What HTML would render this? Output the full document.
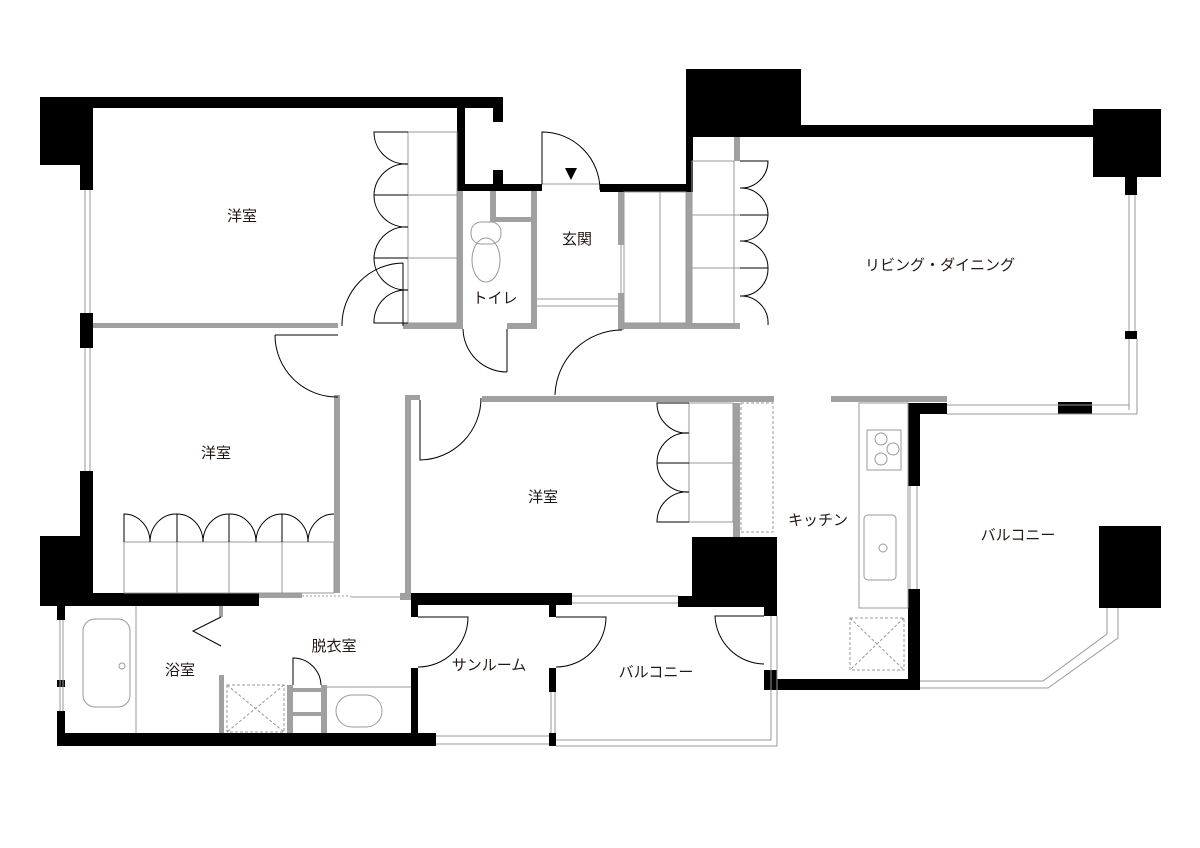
<!DOCTYPE html>
<html><head><meta charset="utf-8"><style>
html,body{margin:0;padding:0;background:#fff}
svg{display:block}
text{font-family:"Liberation Sans","Noto Sans CJK JP",sans-serif;font-size:15px;fill:#231815;text-anchor:middle}
</style></head><body>
<svg width="1200" height="848" viewBox="0 0 1200 848" xmlns="http://www.w3.org/2000/svg">
<g fill="#000">
<!-- top-left -->
<rect x="40" y="97" width="53" height="68"/>
<rect x="40" y="97" width="463" height="11"/>
<rect x="493" y="97" width="10" height="25"/>
<rect x="493" y="170" width="10" height="20"/>
<rect x="457" y="108" width="8" height="83"/>
<rect x="457" y="184" width="85" height="7"/>
<rect x="80" y="165" width="13" height="25"/>
<rect x="80" y="313" width="13" height="35"/>
<rect x="80" y="471" width="13" height="130"/>
<rect x="40" y="536" width="53" height="70"/>
<rect x="40" y="593" width="219" height="13"/>
<!-- top right -->
<rect x="600" y="184" width="92" height="8"/>
<rect x="686" y="69" width="115" height="68"/>
<rect x="686" y="69" width="7" height="123"/>
<rect x="800" y="125" width="300" height="12"/>
<rect x="1093" y="109" width="68" height="68"/>
<rect x="1125" y="177" width="12" height="18"/>
<rect x="1125" y="331" width="12" height="8"/>
<rect x="1058" y="402" width="34" height="12"/>
<rect x="908" y="403" width="39" height="11"/>
<rect x="908" y="403" width="12" height="83"/>
<rect x="908" y="589" width="12" height="101"/>
<rect x="764" y="679" width="156" height="11"/>
<rect x="764" y="670" width="13" height="20"/>
<rect x="692" y="537" width="85" height="59"/>
<rect x="678" y="596" width="99" height="11"/>
<rect x="764" y="596" width="13" height="20"/>
<rect x="1099" y="526" width="62" height="82"/>
<!-- bath / sunroom -->
<rect x="57" y="606" width="8" height="14"/>
<rect x="57" y="680" width="8" height="7"/>
<rect x="57" y="711" width="8" height="35"/>
<rect x="57" y="733" width="379" height="13"/>
<rect x="411" y="593" width="161" height="12"/>
<rect x="411" y="593" width="7" height="24"/>
<rect x="411" y="668" width="7" height="78"/>
<rect x="549" y="605" width="7" height="12"/>
<rect x="549" y="668" width="7" height="24"/>
<rect x="549" y="733" width="7" height="13"/>
<polygon points="570,547 574,547 578,547 566,547" />
</g>
<!-- entrance arrow -->
<polygon points="565,168 577,168 571,180" fill="#000"/>
<!-- grey walls -->
<g fill="#a0a0a0">
<rect x="93" y="323" width="245" height="5"/>
<rect x="403" y="323" width="60" height="6"/>
<rect x="457" y="191" width="6" height="138"/>
<rect x="531" y="191" width="6" height="138"/>
<rect x="490" y="191" width="6" height="31"/>
<rect x="490" y="217" width="41" height="5"/>
<rect x="507" y="323" width="30" height="6"/>
<rect x="618" y="192" width="6" height="53"/>
<rect x="618" y="293" width="6" height="37"/>
<rect x="618" y="323" width="122" height="6"/>
<rect x="686" y="192" width="6" height="133"/>
<rect x="734" y="137" width="6" height="24"/>
<rect x="334" y="395" width="6" height="198"/>
<rect x="405" y="395" width="6" height="205"/>
<rect x="405" y="395" width="15" height="5"/>
<rect x="482" y="396" width="292" height="6"/>
<rect x="831" y="396" width="116" height="6"/>
<rect x="733" y="403" width="7" height="134"/>
<rect x="259" y="593" width="43" height="5"/>
<rect x="400" y="593" width="11" height="7"/>
<rect x="219" y="606" width="4" height="11"/>
<rect x="219" y="675" width="5" height="58"/>
<rect x="287" y="685" width="6" height="48"/>
<rect x="321" y="685" width="6" height="48"/>
<rect x="293" y="688" width="28" height="4"/>
<rect x="293" y="712" width="28" height="4"/>
</g>
<g fill="none" stroke="#999" stroke-width="1">
<!-- closets bedroom1 -->
<rect x="408" y="132" width="49" height="191"/>
<line x1="408" y1="195" x2="457" y2="195"/><line x1="408" y1="258" x2="457" y2="258"/>
<!-- entrance closets -->
<rect x="624" y="192" width="62" height="131"/>
<line x1="660" y1="192" x2="660" y2="323"/>
<rect x="692" y="161" width="42" height="164"/>
<line x1="692" y1="215" x2="740" y2="215"/><line x1="692" y1="268" x2="740" y2="268"/>
<line x1="537" y1="299" x2="618" y2="299"/><line x1="537" y1="306" x2="618" y2="306"/>
<line x1="542" y1="184" x2="600" y2="184"/>
<line x1="621" y1="245" x2="621" y2="293"/>
<!-- bedroom2 closet -->
<rect x="124" y="542" width="210" height="51"/>
<line x1="177" y1="542" x2="177" y2="593"/><line x1="229" y1="542" x2="229" y2="593"/><line x1="282" y1="542" x2="282" y2="593"/>
<!-- bedroom3 closet -->
<rect x="689" y="403" width="44" height="119"/>
<line x1="689" y1="463" x2="733" y2="463"/>
<rect x="741" y="403" width="32" height="129" stroke-dasharray="3,2"/>
<!-- bath -->
<line x1="136" y1="606" x2="136" y2="733"/>
<rect x="83" y="619" width="47" height="88" rx="12"/>
<circle cx="122" cy="666" r="3"/>
<line x1="60" y1="620" x2="60" y2="711"/><line x1="63" y1="620" x2="63" y2="711"/>
<rect x="227" y="685" width="57" height="47" stroke-dasharray="3,2"/>
<line x1="227" y1="685" x2="284" y2="732" stroke-dasharray="3,2"/><line x1="284" y1="685" x2="227" y2="732" stroke-dasharray="3,2"/>
<line x1="327" y1="687" x2="411" y2="687"/>
<rect x="336" y="695" width="46" height="32" rx="16"/>
<line x1="302" y1="596" x2="351" y2="596" stroke-dasharray="2,2"/>
<line x1="351" y1="597" x2="400" y2="597"/>
<!-- windows -->
<line x1="85" y1="190" x2="85" y2="313"/><line x1="90" y1="190" x2="90" y2="313"/>
<line x1="85" y1="348" x2="85" y2="471"/><line x1="90" y1="348" x2="90" y2="471"/>
<line x1="1129" y1="195" x2="1129" y2="331"/><line x1="1135" y1="195" x2="1135" y2="331"/>
<line x1="1129" y1="339" x2="1129" y2="410"/><line x1="1137" y1="339" x2="1137" y2="414"/>
<line x1="947" y1="405" x2="1129" y2="405"/><line x1="947" y1="414" x2="1137" y2="414"/>
<line x1="572" y1="596" x2="678" y2="596"/><line x1="572" y1="603" x2="678" y2="603"/>
<line x1="436" y1="736" x2="549" y2="736"/><line x1="436" y1="744" x2="549" y2="744"/>
<line x1="551" y1="692" x2="551" y2="733"/><line x1="555" y1="692" x2="555" y2="733"/>
<line x1="910" y1="486" x2="910" y2="589"/><line x1="917" y1="486" x2="917" y2="589"/>
<!-- balconies outline -->
<polyline points="771,616 771,740 556,740"/><polyline points="777,616 777,746 556,746"/>
<polyline points="920,681 1043,681 1107,634 1107,608"/>
<polyline points="920,688 1048,688 1118,638 1118,608"/>
<!-- kitchen -->
<rect x="859" y="403" width="49" height="205"/>
<rect x="867" y="430" width="34" height="40"/>
<circle cx="881" cy="439" r="6"/><circle cx="893" cy="449" r="6"/><circle cx="881" cy="459" r="6"/>
<rect x="864" y="515" width="32" height="65" rx="4"/>
<circle cx="883" cy="548" r="4"/>
<rect x="850" y="618" width="54" height="52" stroke-dasharray="3,2"/>
<line x1="850" y1="618" x2="904" y2="670" stroke-dasharray="3,2"/><line x1="904" y1="618" x2="850" y2="670" stroke-dasharray="3,2"/>
<!-- toilet -->
<rect x="471" y="222" width="30" height="22" rx="10"/>
<ellipse cx="486" cy="260" rx="14" ry="22"/>
</g>
<!-- doors -->
<g fill="none" stroke="#000" stroke-width="1">
<path d="M542,184 V132 A58,58 0 0 1 600,190"/>
<path d="M403,263 V326 M403,263 A62,62 0 0 0 342,326"/>
<path d="M275,335 H338 M275,335 A62,62 0 0 0 338,397"/>
<path d="M507,329 V372 M463,329 A44,44 0 0 0 507,372"/>
<path d="M555,395 A67,67 0 0 1 622,330"/>
<path d="M420,400 V460 A62,62 0 0 0 481,398"/>
<path d="M418,617 H468 A50,50 0 0 1 418,667"/>
<path d="M556,617 H606 A50,50 0 0 1 556,667"/>
<path d="M764,616 H715 A50,50 0 0 0 764,664"/>
<path d="M293,685 V658 A28,28 0 0 1 321,685"/>
<path d="M221,617 L193,631 L221,646"/>
<!-- closet arcs bedroom1 -->
<path d="M408,132 H374 A32,32 0 0 0 408,164 A32,32 0 0 0 374,195 H408 M374,195 A32,32 0 0 0 408,227 A32,32 0 0 0 374,258 H408 M374,258 A32,32 0 0 0 408,290 A32,32 0 0 0 374,323 H408"/>
<!-- living closet arcs -->
<path d="M740,161 H768 A27,27 0 0 1 740,188 A27,27 0 0 1 768,215 H740 M768,215 A27,27 0 0 1 740,241 A27,27 0 0 1 768,268 H740 M768,268 A27,27 0 0 1 740,296 A27,27 0 0 1 768,325"/>
<!-- bedroom3 closet arcs -->
<path d="M689,403 H657 A30,30 0 0 0 689,433 A30,30 0 0 0 657,463 H689 M657,463 A30,30 0 0 0 689,492 A30,30 0 0 0 657,522 H689"/>
<!-- bedroom2 closet arcs -->
<path d="M124,542 V514 A26,28 0 0 1 150,542 A26,28 0 0 1 177,514 V542 M177,514 A26,28 0 0 1 203,542 A26,28 0 0 1 229,514 V542 M229,514 A26,28 0 0 1 256,542 A26,28 0 0 1 282,514 V542 M282,514 A26,28 0 0 1 308,542 A26,28 0 0 1 334,514"/>
</g>
<!-- labels -->
<text x="242" y="221">洋室</text>
<text x="216" y="458">洋室</text>
<text x="543" y="502">洋室</text>
<text x="577" y="244">玄関</text>
<text x="495" y="303">トイレ</text>
<text x="940" y="270">リビング・ダイニング</text>
<text x="818" y="525">キッチン</text>
<text x="1018" y="540">バルコニー</text>
<text x="656" y="677">バルコニー</text>
<text x="489" y="670">サンルーム</text>
<text x="334" y="651">脱衣室</text>
<text x="180" y="675">浴室</text>
</svg>
</body></html>
